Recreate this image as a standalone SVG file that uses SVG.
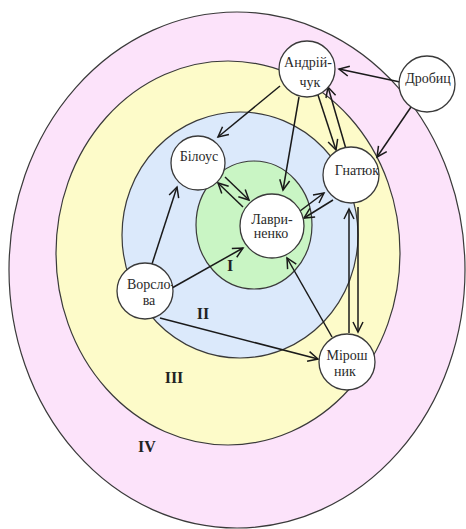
<svg xmlns="http://www.w3.org/2000/svg" width="466" height="529" viewBox="0 0 466 529">
<style>
.zone{stroke:#3a3a3a;stroke-width:1.2}
.node{fill:#fff;stroke:#3a3a3a;stroke-width:1.3}
.lbl{font-family:"Liberation Serif","DejaVu Serif",serif;font-size:14px;fill:#2a2a2a;text-anchor:middle}
.zl{font-family:"Liberation Serif","DejaVu Serif",serif;font-size:16px;font-weight:bold;fill:#222;text-anchor:middle}
.edge{stroke:#1a1a1a;stroke-width:1.5;fill:none;marker-end:url(#arr)}
</style>
<defs>
<marker id="arr" markerUnits="userSpaceOnUse" markerWidth="14" markerHeight="14" viewBox="0 0 14 14" refX="12" refY="7" orient="auto">
<path d="M2,2 L12,7 L2,12" fill="none" stroke="#1a1a1a" stroke-width="1.5"/>
</marker>
<clipPath id="cG"><circle cx="351" cy="175" r="28"/></clipPath>
<clipPath id="cV"><circle cx="145" cy="291" r="28"/></clipPath>
<clipPath id="cD"><circle cx="427" cy="84" r="28"/></clipPath>
</defs>
<g id="zones">
<ellipse class="zone" cx="237" cy="270" rx="228" ry="258" fill="#fce3fa"/>
<ellipse class="zone" cx="228" cy="253" rx="172" ry="192" fill="#fdfbc9"/>
<ellipse class="zone" cx="240" cy="235" rx="118" ry="123" fill="#dbe9fb"/>
<ellipse class="zone" cx="254" cy="225" rx="58" ry="64" fill="#c9f5c4"/>
</g>
<g id="connectors">
<line class="edge" x1="400" y1="82" x2="339" y2="69"/>
<line class="edge" x1="411" y1="107" x2="377" y2="157"/>
<line class="edge" x1="280" y1="86" x2="218" y2="137"/>
<line class="edge" x1="299" y1="97" x2="283" y2="190"/>
<line class="edge" x1="318" y1="95" x2="336" y2="150"/>
<line class="edge" x1="346" y1="149" x2="328" y2="87"/>
<line class="edge" x1="225" y1="177" x2="249" y2="200"/>
<line class="edge" x1="243" y1="207" x2="218" y2="183"/>
<line class="edge" x1="300" y1="211" x2="324" y2="193"/>
<line class="edge" x1="333" y1="200" x2="304" y2="218"/>
<line class="edge" x1="152" y1="264" x2="177" y2="187"/>
<line class="edge" x1="172" y1="288" x2="243" y2="248"/>
<line class="edge" x1="160" y1="318" x2="318" y2="359"/>
<line class="edge" x1="332" y1="337" x2="287" y2="258"/>
<line class="edge" x1="349" y1="333" x2="349" y2="209"/>
<line class="edge" x1="358" y1="207" x2="358" y2="332"/>
</g>
<g id="n-andriichuk">
<circle class="node" cx="307" cy="69" r="28"/>
<text class="lbl" x="308" y="67">Андрій-</text>
<text class="lbl" x="310" y="87">чук</text>
</g>
<g id="n-drobyts">
<circle class="node" cx="427" cy="84" r="28"/>
<text class="lbl" x="428" y="83" clip-path="url(#cD)">Дробиц</text>
</g>
<g id="n-bilous">
<circle class="node" cx="198" cy="163" r="27"/>
<text class="lbl" x="199" y="161">Білоус</text>
</g>
<g id="n-hnatiuk">
<circle class="node" cx="351" cy="175" r="28"/>
<text class="lbl" x="357" y="175" clip-path="url(#cG)">Гнатюк</text>
</g>
<g id="n-lavrynenko">
<circle class="node" cx="272" cy="226" r="32"/>
<text class="lbl" x="272" y="224">Лаври-</text>
<text class="lbl" x="271" y="238">ненко</text>
</g>
<g id="n-vorslova">
<circle class="node" cx="145" cy="291" r="28"/>
<text class="lbl" x="151" y="289" clip-path="url(#cV)">Ворсло-</text>
<text class="lbl" x="149" y="305" clip-path="url(#cV)">ва</text>
</g>
<g id="n-miroshnyk">
<circle class="node" cx="347" cy="362" r="28"/>
<text class="lbl" x="347" y="360">Мірош</text>
<text class="lbl" x="345" y="376">ник</text>
</g>
<g id="zone-labels">
<text class="zl" x="230" y="271">I</text>
<text class="zl" x="203" y="319">II</text>
<text class="zl" x="174" y="383">III</text>
<text class="zl" x="147" y="452">IV</text>
</g>
</svg>
